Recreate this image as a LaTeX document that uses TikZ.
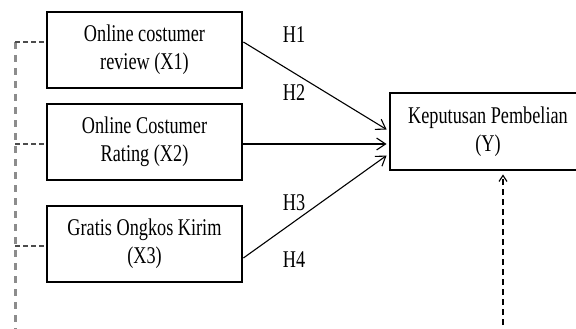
\documentclass[tikz,border=0pt]{standalone}
\usepackage{fontspec}
\setmainfont{Liberation Serif}[FakeStretch=0.76]
\usetikzlibrary{arrows.meta}

\tikzset{
    kotak/.style={draw, line width=2.8pt, minimum width=195pt, minimum height=76pt, align=center, inner sep=0pt, font=\fontsize{24}{28}\selectfont},
    hipotesis/.style={font=\fontsize{24}{28}\selectfont, inner sep=0pt},
    panah/.style={-{Straight Barb[length=9pt,width=12pt]}, line width=1.1pt},
    garis/.style={dashed, dash pattern=on 7pt off 6pt, line width=3pt, draw=black!45},
    cabang/.style={dashed, dash pattern=on 5pt off 3pt, line width=1.3pt, draw=black!70}
}

\begin{document}
\begin{tikzpicture}[x=1pt, y=-1pt]
    \useasboundingbox (0,0) rectangle (576,329);
    \clip (0,0) rectangle (576,329);
    \path node[kotak] (X1) at (144.5,50) {Online costumer\\review (X1)}
        node[kotak] (X2) at (144.5,142) {Online Costumer\\Rating (X2)}
        node[kotak] (X3) at (144.5,244) {Gratis Ongkos Kirim\\(X3)}
        node[kotak, minimum width=196pt, minimum height=77pt] (Y) at (488,131.5) {Keputusan Pembelian\\(Y)}
        node[hipotesis] (H1) at (294,35) {H1}
        node[hipotesis] (H2) at (294,93) {H2}
        node[hipotesis] (H3) at (294,203) {H3}
        node[hipotesis] (H4) at (294,260) {H4};
    \coordinate (kiri) at (15,42);
    \coordinate (bawah) at (15,335);
    \coordinate (luar) at (503,335);
        \draw[panah] ([yshift=8pt]X1.east) -- ([xshift=-2pt,yshift=2pt]Y.west);
        \draw[panah] ([yshift=-2pt]X2.east) -- ([xshift=-2pt,yshift=-12.5pt]Y.west);
        \draw[panah] ([yshift=-14pt]X3.east) -- ([xshift=-2pt,yshift=-24pt]Y.west);
        \draw[garis] (kiri) -- (bawah);
        \draw[cabang] (kiri) -- ([yshift=8pt]X1.west);
        \draw[cabang] (kiri |- X2.west) ++(0,2) -- ([yshift=-2pt]X2.west);
        \draw[cabang] (kiri |- X3.west) ++(0,2) -- ([yshift=-2pt]X3.west);
        \draw[-{Straight Barb[length=6pt,width=8pt]}, dash pattern=on 6pt off 4pt, line width=1.2pt] (luar) -- ([yshift=-3pt]luar |- Y.south);
\end{tikzpicture}
\end{document}
